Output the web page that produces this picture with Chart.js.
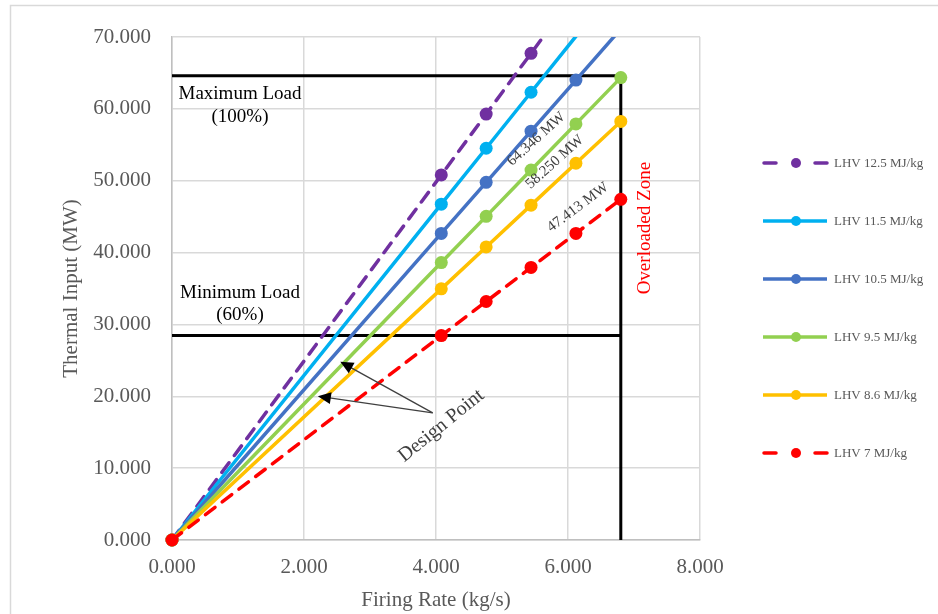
<!DOCTYPE html>
<html>
<head>
<meta charset="utf-8">
<script src="https://cdn.jsdelivr.net/npm/chart.js@4.4.0/dist/chart.umd.min.js"></script>
<style>
html, body { margin: 0; padding: 0; background: #fff; }
canvas { display: block; }
</style>
</head>
<body>
<canvas id="chart" width="938" height="614"></canvas>
<script>
// data
var firingRate = [0, 4.08, 4.76, 5.44, 6.12, 6.8];
var seriesNames = ['LHV 12.5 MJ/kg', 'LHV 11.5 MJ/kg', 'LHV 10.5 MJ/kg', 'LHV 9.5 MJ/kg', 'LHV 8.6 MJ/kg', 'LHV 7 MJ/kg'];
var lhv125 = [0, 50.80, 59.27, 67.73, 76.20, 84.67];
var lhv115 = [0, 46.73, 54.52, 62.31, 70.10, 77.89];
var lhv105 = [0, 42.67, 49.78, 56.89, 64.00, 71.12];
var lhv95 = [0, 38.61, 45.04, 51.48, 57.91, 64.35];
var lhv86 = [0, 34.95, 40.78, 46.60, 52.43, 58.25];
var lhv7 = [0, 28.45, 33.19, 37.93, 42.67, 47.41];
var xTicks = [0, 2, 4, 6, 8];
var yTicks = [0, 10, 20, 30, 40, 50, 60, 70];

// load limits
var maxLoad = 64.6;
var minLoad = 28.45;
var ratedFiring = 6.8;

// styles
var colors = ['#7030A0', '#00B0F0', '#4472C4', '#92D050', '#FFC000', '#FF0000'];
var dashes = [[12, 9], [], [], [], [], [12, 9]];
var serif = '"Liberation Serif", "Times New Roman", serif';
var grey = '#595959';

var allSeries = [lhv125, lhv115, lhv105, lhv95, lhv86, lhv7];
var yMax = yTicks[yTicks.length - 1];

var toPoints = function (xs, ys) {
    return xs.map(function (x, i) {
        return { x: x, y: ys[i] };
    });
};

// markers above the axis are not shown, like excel
var markerSize = function (ctx) {
    return ctx.raw && ctx.raw.y > yMax ? 0 : 6.5;
};

var datasets = allSeries.map(function (values, i) {
    return {
        label: seriesNames[i],
        data: toPoints(firingRate, values),
        showLine: true,
        order: allSeries.length - i,
        clip: { left: 8, bottom: 8, top: 0, right: 0 },
        borderColor: colors[i],
        backgroundColor: colors[i],
        borderWidth: 3.5,
        borderDash: dashes[i],
        borderCapStyle: 'round',
        pointRadius: markerSize,
        pointBorderWidth: 0,
        pointHoverRadius: markerSize
    };
});

// black limit lines, kept behind the series
datasets.push({
    label: 'max',
    data: toPoints([0, ratedFiring, ratedFiring], [maxLoad, maxLoad, 0]),
    showLine: true,
    order: 20,
    borderColor: '#000',
    borderWidth: 3,
    pointRadius: 0
});
datasets.push({
    label: 'min',
    data: toPoints([0, ratedFiring], [minLoad, minLoad]),
    showLine: true,
    order: 20,
    borderColor: '#000',
    borderWidth: 3,
    pointRadius: 0
});

var textAt = function (ctx, chart, text, x, y, angle, font, color) {
    var px = chart.scales.x.getPixelForValue(x);
    var py = chart.scales.y.getPixelForValue(y);
    ctx.save();
    ctx.translate(px, py);
    ctx.rotate(angle * Math.PI / 180);
    ctx.font = font;
    ctx.fillStyle = color;
    ctx.textAlign = 'center';
    ctx.textBaseline = 'middle';
    ctx.fillText(text, 0, 0);
    ctx.restore();
};

var arrow = function (ctx, chart, x1, y1, x2, y2) {
    var sx = chart.scales.x, sy = chart.scales.y;
    var ax = sx.getPixelForValue(x1), ay = sy.getPixelForValue(y1);
    var bx = sx.getPixelForValue(x2), by = sy.getPixelForValue(y2);
    var a = Math.atan2(by - ay, bx - ax);
    ctx.save();
    ctx.strokeStyle = '#404040';
    ctx.lineWidth = 1.3;
    ctx.beginPath();
    ctx.moveTo(ax, ay);
    ctx.lineTo(bx - 10 * Math.cos(a), by - 10 * Math.sin(a));
    ctx.stroke();
    ctx.fillStyle = '#000';
    ctx.beginPath();
    ctx.moveTo(bx, by);
    ctx.lineTo(bx - 13 * Math.cos(a) + 6 * Math.sin(a), by - 13 * Math.sin(a) - 6 * Math.cos(a));
    ctx.lineTo(bx - 13 * Math.cos(a) - 6 * Math.sin(a), by - 13 * Math.sin(a) + 6 * Math.cos(a));
    ctx.closePath();
    ctx.fill();
    ctx.restore();
};

var decorations = {
    id: 'decorations',
    beforeDraw: function (chart) {
        var ctx = chart.ctx;
        ctx.save();
        ctx.fillStyle = '#fff';
        ctx.fillRect(0, 0, chart.width, chart.height);
        ctx.strokeStyle = '#d9d9d9';
        ctx.lineWidth = 1.5;
        ctx.strokeRect(10.5, 5.5, 1000, 1000);
        ctx.restore();
    },
    afterDraw: function (chart) {
        var ctx = chart.ctx;
        var label = '19px ' + serif;

        textAt(ctx, chart, 'Maximum Load', 1.03, 62.1, 0, label, '#000');
        textAt(ctx, chart, '(100%)', 1.03, 58.8, 0, label, '#000');
        textAt(ctx, chart, 'Minimum Load', 1.03, 34.4, 0, label, '#000');
        textAt(ctx, chart, '(60%)', 1.03, 31.3, 0, label, '#000');

        textAt(ctx, chart, '64.346 MW', 5.52, 55.8, -42, '15px ' + serif, '#404040');
        textAt(ctx, chart, '58.250 MW', 5.80, 52.6, -42, '15px ' + serif, '#404040');
        textAt(ctx, chart, '47.413 MW', 6.15, 46.3, -37, '15px ' + serif, '#404040');

        textAt(ctx, chart, 'Overloaded Zone', 7.17, 43.4, -90, '19px ' + serif, '#FF0000');
        textAt(ctx, chart, 'Design Point', 4.08, 15.9, -39, '20px ' + serif, '#404040');

        arrow(ctx, chart, 3.95, 17.7, 2.55, 24.8);
        arrow(ctx, chart, 3.95, 17.7, 2.21, 20.0);

        // legend on the right
        ctx.save();
        for (var i = 0; i < seriesNames.length; i++) {
            var y = 163 + i * 58;
            ctx.strokeStyle = colors[i];
            ctx.fillStyle = colors[i];
            ctx.lineWidth = 3.5;
            ctx.lineCap = dashes[i].length ? 'round' : 'butt';
            ctx.beginPath();
            if (dashes[i].length) {
                ctx.moveTo(764, y);
                ctx.lineTo(776, y);
                ctx.moveTo(815, y);
                ctx.lineTo(827, y);
            }
            else {
                ctx.moveTo(763, y);
                ctx.lineTo(827, y);
            }
            ctx.stroke();
            ctx.beginPath();
            ctx.arc(796, y, 5, 0, Math.PI * 2);
            ctx.fill();

            ctx.fillStyle = grey;
            ctx.font = '13px ' + serif;
            ctx.textAlign = 'left';
            ctx.textBaseline = 'middle';
            ctx.fillText(seriesNames[i], 834, y + 1);
        }
        ctx.restore();
    }
};

var chart = new Chart(document.querySelector('#chart'), {
    type: 'scatter',
    data: { datasets: datasets },
    options: {
        responsive: false,
        animation: false,
        devicePixelRatio: 1,
        layout: { padding: { top: 37, right: 238, left: 0, bottom: 0 } },
        plugins: {
            legend: { display: false },
            tooltip: { enabled: false }
        },
        scales: {
            x: {
                type: 'linear',
                min: 0,
                max: 8,
                afterBuildTicks: function (scale) {
                    scale.ticks = xTicks.map(function (v) { return { value: v }; });
                },
                afterFit: function (scale) { scale.height = 74; },
                grid: { color: '#d9d9d9', lineWidth: 1.5, drawTicks: false },
                border: { color: '#bfbfbf', width: 1.5 },
                ticks: {
                    padding: 15,
                    color: grey,
                    font: { family: serif, size: 21 },
                    callback: function (v) { return v.toFixed(3); }
                },
                title: {
                    display: true,
                    text: 'Firing Rate (kg/s)',
                    color: grey,
                    font: { family: serif, size: 21 },
                    padding: { top: 0, bottom: 1 }
                }
            },
            y: {
                type: 'linear',
                min: 0,
                max: yMax,
                afterBuildTicks: function (scale) {
                    scale.ticks = yTicks.map(function (v) { return { value: v }; });
                },
                afterFit: function (scale) { scale.width = 172; },
                grid: { color: '#d9d9d9', lineWidth: 1.5, drawTicks: false },
                border: { color: '#bfbfbf', width: 1.5 },
                ticks: {
                    padding: 21,
                    color: grey,
                    font: { family: serif, size: 21 },
                    callback: function (v) { return v.toFixed(3); }
                },
                title: {
                    display: true,
                    text: 'Thermal Input (MW)',
                    color: grey,
                    font: { family: serif, size: 21 },
                    padding: { top: 59, bottom: 0 }
                }
            }
        }
    },
    plugins: [decorations]
});
</script>
</body>
</html>
